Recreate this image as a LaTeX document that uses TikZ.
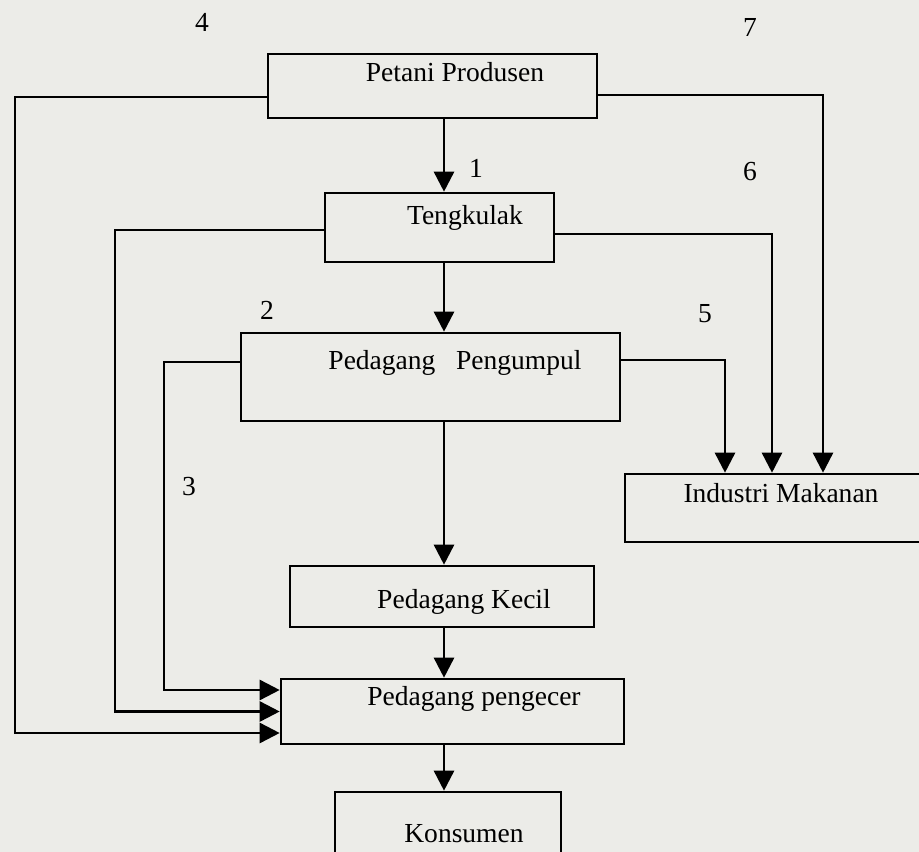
\documentclass[tikz,border=0pt]{standalone}
\usepackage{fontspec}
\setmainfont{Liberation Serif}
\usetikzlibrary{arrows.meta,positioning,calc}
\definecolor{paper}{RGB}{236,236,232}

\begin{document}
\begin{tikzpicture}[x=0.03cm,y=-0.03cm,
  box/.style={draw,rectangle,line width=2.2pt,inner sep=0pt},
  lbl/.style={font=\fontsize{23.5}{28}\selectfont,inner sep=0pt,anchor=base},
  flow/.style={line width=2.2pt,-{Triangle[length=6mm,width=6mm]}}]

  \fill[paper] (0,0) rectangle (919,852);
  \useasboundingbox (0,0) rectangle (919,852);

  % boxes
  \node (petani) [box,minimum width=9.87cm,minimum height=1.92cm] at (432.5,86) {};
  \node (tengkulak) [box,minimum width=6.87cm,minimum height=2.07cm] at (439.5,227.5) {};
  \node (pengumpul) [box,minimum width=11.37cm,minimum height=2.64cm] at (430.5,377) {};
  \node (industri) [box,minimum width=9.3cm,minimum height=2.04cm] at (780,508) {};
  \node (kecil) [box,minimum width=9.12cm,minimum height=1.83cm] at (442,596.5) {};
  \node (pengecer) [box,minimum width=10.29cm,minimum height=1.95cm] at (452.5,711.5) {};
  \node (konsumen) [box,minimum width=6.78cm,minimum height=2.4cm] at (448,832) {};

  % texts
  \node (petani-t) [lbl] at (455,82) {Petani Produsen};
  \node (tengkulak-t) [lbl] at (465,225) {Tengkulak};
  \node (pengumpul-t) [lbl] at (455,370) {Pedagang~~~Pengumpul};
  \node (industri-t) [lbl] at (781,502) {Industri Makanan};
  \node (kecil-t) [lbl] at (464,608) {Pedagang Kecil};
  \node (pengecer-t) [lbl] at (474,705) {Pedagang pengecer};
  \node (konsumen-t) [lbl] at (464,842) {Konsumen};

  % channel numbers
  \node (n1) [lbl] at (476,178) {1};
  \node (n2) [lbl] at (267,320) {2};
  \node (n3) [lbl] at (189,495) {3};
  \node (n4) [lbl] at (202,32) {4};
  \node (n5) [lbl] at (705,323) {5};
  \node (n6) [lbl] at (750,181) {6};
  \node (n7) [lbl] at (750,37) {7};

  % main chain
  \coordinate (spine) at (444,0);
  \draw[flow] (petani.south -| spine) -- (tengkulak.north -| spine);
  \draw[flow] (tengkulak.south -| spine) -- (pengumpul.north -| spine);
  \draw[flow] (pengumpul.south -| spine) -- (kecil.north -| spine);
  \draw[flow] (kecil.south -| spine) -- (pengecer.north -| spine);
  \draw[flow] (pengecer.south -| spine) -- (konsumen.north -| spine);

  % left side into pengecer
  \coordinate (rail-a) at (15,0);
  \coordinate (rail-b) at (115,0);
  \coordinate (rail-c) at (164,0);
  \coordinate (in-a) at ([yshift=6.45mm]pengecer.west);
  \coordinate (in-b) at (pengecer.west);
  \coordinate (in-c) at ([yshift=-6.45mm]pengecer.west);
  \draw[flow] ([yshift=-3.3mm]petani.west) -| (in-c -| rail-a) -- (in-c);
  \draw[flow] ([yshift=-0.75mm]tengkulak.west) -| (in-b -| rail-b) -- (in-b);
  \draw[flow] ([yshift=4.5mm]pengumpul.west) -| (in-a -| rail-c) -- (in-a);

  % right side into industri
  \draw[flow] ([yshift=-2.7mm]petani.east) -| ([xshift=12.9mm]industri.north);
  \draw[flow] ([yshift=-2mm]tengkulak.east) -| ([xshift=-2.4mm]industri.north);
  \draw[flow] ([yshift=5.1mm]pengumpul.east) -| ([xshift=-16.5mm]industri.north);
\end{tikzpicture}
\end{document}
